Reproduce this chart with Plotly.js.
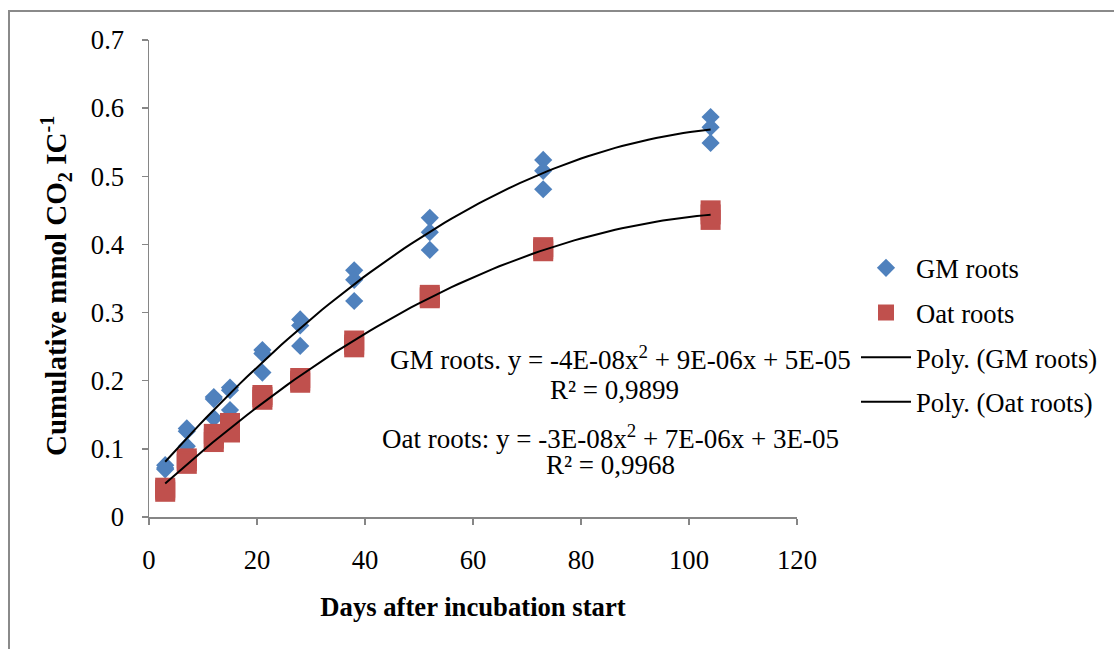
<!DOCTYPE html>
<html>
<head>
<meta charset="utf-8">
<script src="https://cdn.plot.ly/plotly-3.0.1.min.js"></script>
<style>
  html, body { margin: 0; padding: 0; background: #fff; }
  #chart { width: 1114px; height: 649px; }
</style>
</head>
<body>
<div id="chart"></div>
<script>
// Incubation days (three replicates per sampling day)
const gmDays = [3,3,3, 7,7,7, 12,12,12, 15,15,15, 21,21,21, 28,28,28, 38,38,38, 52,52,52, 73,73,73, 104,104,104];
const gmValues = [0.076,0.072,0.070, 0.130,0.126,0.104, 0.176,0.173,0.145, 0.190,0.186,0.157,
                  0.245,0.240,0.212, 0.290,0.281,0.251, 0.362,0.348,0.317, 0.439,0.418,0.392,
                  0.524,0.508,0.481, 0.587,0.572,0.549];

const oatDays = [3,3,3, 7,7,7, 12,12,12, 15,15,15, 21,21,21, 28,28,28, 38,38,38, 52,52,52, 73,73,73, 104,104,104];
const oatValues = [0.043,0.040,0.037, 0.086,0.082,0.078, 0.122,0.115,0.110, 0.138,0.130,0.124,
                   0.179,0.176,0.172, 0.204,0.200,0.197, 0.259,0.253,0.249, 0.326,0.323,0.321,
                   0.396,0.393,0.390, 0.450,0.444,0.436];

const seriesNames = ['GM roots', 'Oat roots'];
const trendNames = ['Poly. (GM roots)', 'Poly. (Oat roots)'];
const equationLines = [
  'GM roots. y = -4E-08x<sup>2</sup> + 9E-06x + 5E-05',
  'R² = 0,9899',
  'Oat roots: y = -3E-08x<sup>2</sup> + 7E-06x + 3E-05',
  'R² = 0,9968'
];
const xTitle = '<b>Days after incubation start</b>';
const yTitle = '<b>Cumulative mmol CO<sub>2</sub> IC<sup>-1</sup></b>';
const xTicks = [0, 20, 40, 60, 80, 100, 120];
const yTicks = [0, 0.1, 0.2, 0.3, 0.4, 0.5, 0.6, 0.7];

// Second-order least-squares trendline, as a spreadsheet polynomial trendline does
function quadFit(xs, ys) {
  let S = [0,0,0,0,0], T = [0,0,0];
  for (let i = 0; i < xs.length; i++) {
    let p = 1;
    for (let k = 0; k < 5; k++) { S[k] += p; if (k < 3) T[k] += p * ys[i]; p *= xs[i]; }
  }
  // normal equations  [S0 S1 S2; S1 S2 S3; S2 S3 S4] [a0 a1 a2] = T
  const M = [[S[0],S[1],S[2],T[0]],[S[1],S[2],S[3],T[1]],[S[2],S[3],S[4],T[2]]];
  for (let c = 0; c < 3; c++) {
    for (let r = c + 1; r < 3; r++) {
      const f = M[r][c] / M[c][c];
      for (let k = c; k < 4; k++) M[r][k] -= f * M[c][k];
    }
  }
  const a = [0,0,0];
  for (let r = 2; r >= 0; r--) {
    let s = M[r][3];
    for (let k = r + 1; k < 3; k++) s -= M[r][k] * a[k];
    a[r] = s / M[r][r];
  }
  return a;
}

function trendCurve(xs, ys) {
  const a = quadFit(xs, ys);
  const lo = Math.min(...xs), hi = Math.max(...xs);
  const cx = [], cy = [];
  for (let i = 0; i <= 80; i++) {
    const x = lo + (hi - lo) * i / 80;
    cx.push(x); cy.push(a[0] + a[1] * x + a[2] * x * x);
  }
  return {x: cx, y: cy};
}

const gmTrend = trendCurve(gmDays, gmValues);
const oatTrend = trendCurve(oatDays, oatValues);

const traces = [
  { x: gmDays, y: gmValues, name: seriesNames[0], type: 'scatter', mode: 'markers', legendgroup: 'a',
    marker: { symbol: 'diamond', size: 14, color: '#4F81BD' } },
  { x: oatDays, y: oatValues, name: seriesNames[1], type: 'scatter', mode: 'markers', legendgroup: 'b',
    marker: { symbol: 'square', size: 20, color: '#C0504D' } },
  { x: gmTrend.x, y: gmTrend.y, name: trendNames[0], type: 'scatter', mode: 'lines', legendgroup: 'c',
    line: { color: '#000', width: 2 } },
  { x: oatTrend.x, y: oatTrend.y, name: trendNames[1], type: 'scatter', mode: 'lines', legendgroup: 'd',
    line: { color: '#000', width: 2 } }
];

const axisGrey = '#868686';

// plot area spans x 149..797 px and y 40..517 px
const W = 1114, H = 649, L = 149, T = 40, PW = 648, PH = 477;
const px = v => (v - L) / PW;          // page x pixel -> paper x
const py = v => (T + PH - v) / PH;     // page y pixel -> paper y

const layout = {
  width: W, height: H,
  margin: { l: L, r: W - L - PW, t: T, b: H - T - PH },
  paper_bgcolor: '#fff', plot_bgcolor: '#fff',
  font: { family: '"Liberation Serif", "Times New Roman", serif', size: 26.67, color: '#000' },
  showlegend: true,
  legend: {
    xref: 'container', yref: 'container',
    x: 856 / W, xanchor: 'left', y: 1 - 335 / H, yanchor: 'middle',
    traceorder: 'grouped', tracegroupgap: 7, itemwidth: 50,
    font: { size: 26.67 }, bgcolor: 'rgba(0,0,0,0)'
  },
  xaxis: {
    range: [0, 120], tickvals: xTicks, ticks: 'outside', ticklen: 6, tickcolor: axisGrey, tickwidth: 1.5,
    showline: true, linecolor: axisGrey, linewidth: 1.5, showgrid: false, zeroline: false,
    ticklabelstandoff: 12, automargin: false,
    title: { text: xTitle, standoff: 24, font: { size: 26.67 } }
  },
  yaxis: {
    range: [0, 0.7], tickvals: yTicks, ticktext: yTicks.map(v => v === 0 ? '0' : v.toFixed(1)),
    ticks: 'outside', ticklen: 6, tickcolor: axisGrey, tickwidth: 1.5,
    showline: true, linecolor: axisGrey, linewidth: 1.5, showgrid: false, zeroline: false,
    ticklabelstandoff: 12, automargin: false
  },
  annotations: [
    { xref: 'paper', yref: 'paper', x: px(56), y: py(286), text: yTitle, textangle: -90,
      font: { size: 29 }, showarrow: false, xanchor: 'center', yanchor: 'middle' },
    { xref: 'paper', yref: 'paper', x: px(620), y: py(358), text: equationLines[0], showarrow: false, xanchor: 'center', yanchor: 'middle', font: { size: 27 } },
    { xref: 'paper', yref: 'paper', x: px(614), y: py(390), text: equationLines[1], showarrow: false, xanchor: 'center', yanchor: 'middle', font: { size: 27 } },
    { xref: 'paper', yref: 'paper', x: px(610), y: py(437), text: equationLines[2], showarrow: false, xanchor: 'center', yanchor: 'middle', font: { size: 27 } },
    { xref: 'paper', yref: 'paper', x: px(610), y: py(465), text: equationLines[3], showarrow: false, xanchor: 'center', yanchor: 'middle', font: { size: 27 } }
  ],
  shapes: [
    // outer chart-area frame
    { type: 'rect', xref: 'paper', yref: 'paper', x0: px(9), y0: py(700), x1: px(1200), y1: py(11),
      line: { color: '#8a8a8a', width: 2 }, fillcolor: 'rgba(0,0,0,0)', layer: 'below' }
  ]
};

Plotly.newPlot('chart', traces, layout, { displayModeBar: false, staticPlot: true });
</script>
</body>
</html>
